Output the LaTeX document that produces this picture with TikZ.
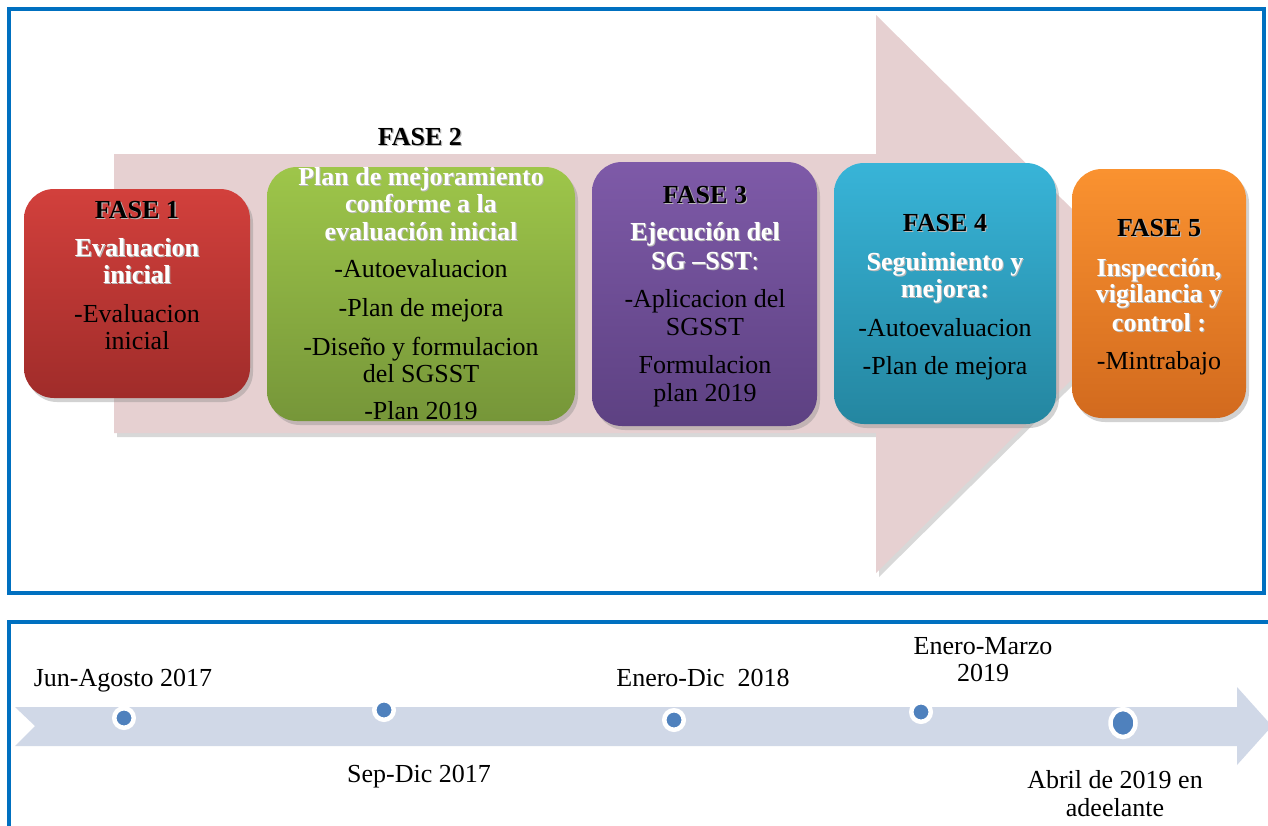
\documentclass[tikz,border=0pt]{standalone}
\usepackage{fontspec}
\setmainfont{Liberation Serif}
\usetikzlibrary{shadows,shapes.geometric}
\definecolor{frameblue}{RGB}{0,112,192}
\definecolor{arrowpink}{RGB}{230,208,209}
\definecolor{bandblue}{RGB}{208,216,231}
\definecolor{dotblue}{RGB}{79,129,189}
\definecolor{redT}{RGB}{210,64,60}
\definecolor{redB}{RGB}{160,44,42}
\definecolor{greenT}{RGB}{158,198,74}
\definecolor{greenB}{RGB}{118,150,57}
\definecolor{purpT}{RGB}{126,90,168}
\definecolor{purpB}{RGB}{93,65,130}
\definecolor{tealT}{RGB}{56,180,216}
\definecolor{tealB}{RGB}{36,134,160}
\definecolor{orT}{RGB}{250,146,48}
\definecolor{orB}{RGB}{210,106,30}
\newcommand\shtxt[1]{\leavevmode\rlap{\hspace{1.1pt}\raisebox{-1.1pt}{\textcolor{black!28}{#1}}}#1}
\tikzset{
  frame/.style={draw=frameblue, line width=4pt},
  fbox/.style={rounded corners=30pt, draw=none, inner sep=0pt,
    drop shadow={shadow xshift=3pt, shadow yshift=-4pt, opacity=0.35}},
  hd/.style={anchor=base, inner sep=0pt, font=\fontsize{26}{27}\selectfont\bfseries, text=black},
  sub/.style={hd, text=white},
  itm/.style={anchor=base, inner sep=0pt, font=\fontsize{26}{27}\selectfont, text=black},
  dot/.style={circle, fill=dotblue, draw=white, line width=4.5pt, minimum size=19.5pt, inner sep=0pt,
    drop shadow={shadow xshift=0.5pt, shadow yshift=-1pt, opacity=0.15}},
  tl/.style={itm}
}
\begin{document}
\begin{tikzpicture}[x=1pt,y=-1pt]
\useasboundingbox (0,0) rectangle (1268,825);
\clip (0,0) rectangle (1268,825);
\fill[white] (0,0) rectangle (1268,825);

% ---------- top panel ----------
\draw[frame] (9,9) rectangle (1264,593);
\fill[arrowpink, drop shadow={shadow xshift=3pt, shadow yshift=-4pt, opacity=0.3}]
  (114,154) -- (876,154) -- (876,15) -- (1158,294) -- (876,573) -- (876,433) -- (114,433) -- cycle;

\node[fbox, minimum width=226pt, minimum height=209pt, top color=redT, bottom color=redB] (b1) at (137,293.5) {};
\node[fbox, minimum width=308pt, minimum height=254pt, top color=greenT, bottom color=greenB] (b2) at (421,294) {};
\node[fbox, minimum width=225pt, minimum height=264pt, top color=purpT, bottom color=purpB] (b3) at (704.5,294) {};
\node[fbox, minimum width=222pt, minimum height=261pt, top color=tealT, bottom color=tealB] (b4) at (945,293.5) {};
\node[fbox, minimum width=174pt, minimum height=249pt, top color=orT, bottom color=orB] (b5) at (1159,293.5) {};

% FASE 1
\node[hd]  (f1a) at (137,218) {\shtxt{FASE 1}};
\node[sub] (f1b) at (137,256) {\shtxt{Evaluacion}};
\node[sub] (f1c) at (137,283) {\shtxt{inicial}};
\node[itm] (f1d) at (137,322) {-Evaluacion};
\node[itm] (f1e) at (137,349) {inicial};

% FASE 2
\node[hd]  (f2a) at (420,145) {\shtxt{FASE 2}};
\node[sub] (f2b) at (421,185) {\shtxt{Plan de mejoramiento}};
\node[sub] (f2c) at (421,212) {\shtxt{conforme a la}};
\node[sub] (f2d) at (421,240) {\shtxt{evaluación inicial}};
\node[itm] (f2e) at (421,277) {-Autoevaluacion};
\node[itm] (f2f) at (421,316) {-Plan de mejora};
\node[itm] (f2g) at (421,355) {-Diseño y formulacion};
\node[itm] (f2h) at (421,382) {del SGSST};
\node[itm] (f2i) at (421,419) {-Plan 2019};

% FASE 3
\node[hd]  (f3a) at (705,203) {\shtxt{FASE 3}};
\node[sub] (f3b) at (705,240) {\shtxt{Ejecución del}};
\node[sub] (f3c) at (705,269) {\shtxt{SG –SST\mdseries:}};
\node[itm] (f3d) at (705,307) {-Aplicacion del};
\node[itm] (f3e) at (705,335) {SGSST};
\node[itm] (f3f) at (705,373) {Formulacion};
\node[itm] (f3g) at (705,401) {plan 2019};

% FASE 4
\node[hd]  (f4a) at (945,231) {\shtxt{FASE 4}};
\node[sub] (f4b) at (945,270) {\shtxt{Seguimiento y}};
\node[sub] (f4c) at (945,297) {\shtxt{mejora:}};
\node[itm] (f4d) at (945,336) {-Autoevaluacion};
\node[itm] (f4e) at (945,374) {-Plan de mejora};

% FASE 5
\node[hd]  (f5a) at (1159,236) {\shtxt{FASE 5}};
\node[sub] (f5b) at (1159,276) {\shtxt{Inspección,}};
\node[sub] (f5c) at (1159,302) {\shtxt{vigilancia y}};
\node[sub] (f5d) at (1159,331) {\shtxt{control :}};
\node[itm] (f5e) at (1159,369) {-Mintrabajo};

% ---------- timeline panel ----------
\draw[frame] (9,840) -- (9,622) -- (1280,622);
\fill[bandblue] (15,707) -- (1237,707) -- (1237,687) -- (1272,726) -- (1237,765) -- (1237,746)
  -- (15,746) -- (35,726) -- cycle;

\node[dot] (d1) at (124,718) {};
\node[dot] (d2) at (384,710) {};
\node[dot] (d3) at (674,720) {};
\node[dot] (d4) at (921,712) {};
\node[ellipse, fill=dotblue, draw=white, line width=4.5pt, minimum width=25pt, minimum height=28pt, inner sep=0pt,
  drop shadow={shadow xshift=0.5pt, shadow yshift=-1pt, opacity=0.15}] (d5) at (1123,723) {};

\node[tl] (t1) at (123,686) {Jun-Agosto 2017};
\node[tl] (t2) at (419,782) {Sep-Dic 2017};
\node[tl] (t3) at (703,686) {Enero-Dic\ \ 2018};
\node[tl] (t4a) at (983,654) {Enero-Marzo};
\node[tl] (t4b) at (983,681) {2019};
\node[tl] (t5a) at (1115,788) {Abril de 2019 en};
\node[tl] (t5b) at (1115,816) {adeelante};
\end{tikzpicture}
\end{document}
